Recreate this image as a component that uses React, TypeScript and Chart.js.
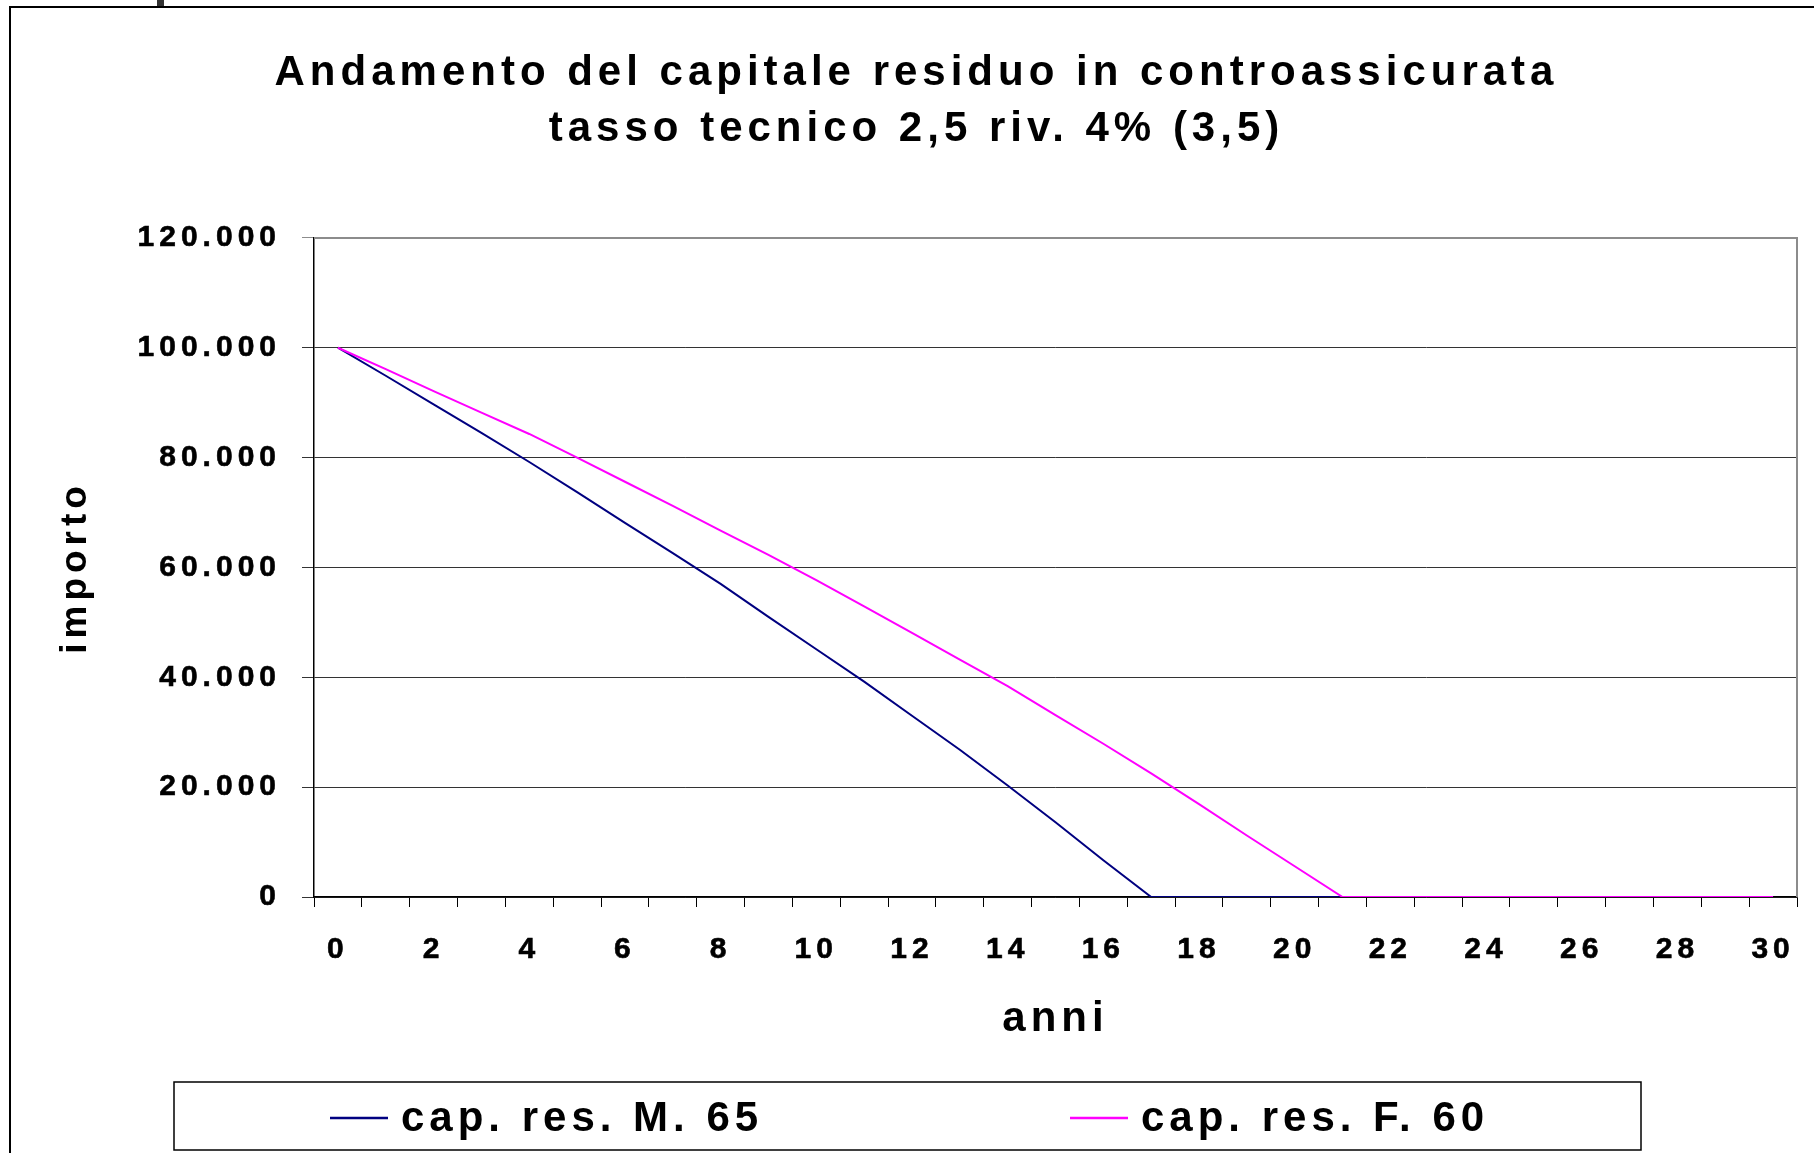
import React, { useEffect, useRef } from 'react';
import { Chart, registerables } from 'chart.js';

Chart.register(...registerables);

// ---- data ----
const years = [
  '0', '1', '2', '3', '4', '5', '6', '7', '8', '9', '10',
  '11', '12', '13', '14', '15', '16', '17', '18', '19', '20',
  '21', '22', '23', '24', '25', '26', '27', '28', '29', '30',
];

const capResM65 = [
  100000, 94900, 89700, 84500, 79200, 73700, 68100, 62600, 57000, 51000, 45100,
  39200, 33000, 26800, 20300, 13600, 6700, 0, 0, 0, 0,
  0, 0, 0, 0, 0, 0, 0, 0, 0, 0,
];

const capResF60 = [
  100000, 96100, 92100, 88200, 84300, 80000, 75600, 71200, 66700, 62300, 57700,
  52900, 48100, 43200, 38400, 33100, 27900, 22500, 16900, 11200, 5600,
  0, 0, 0, 0, 0, 0, 0, 0, 0, 0,
];

const seriesLabels = ['cap. res. M. 65', 'cap. res. F. 60'];
const seriesColors = ['#000080', '#FF00FF'];

const titleLines = [
  'Andamento del capitale residuo in controassicurata',
  'tasso tecnico 2,5 riv. 4% (3,5)',
];
const yAxisTitle = 'importo';
const xAxisTitle = 'anni';
const yMin = 0;
const yMax = 120000;
const yStep = 20000;

const FONT = "'Liberation Sans', Arial, Helvetica, sans-serif";
const formatIt = (v: number) => String(v).replace(/\B(?=(\d{3})+(?!\d))/g, '.');

const spacingPlugin = {
  id: 'letterSpacing',
  beforeUpdate(chart: any) {
    chart.ctx.letterSpacing = '5px';
  },
  beforeLayout(chart: any) {
    chart.ctx.letterSpacing = '5px';
  },
  beforeDraw(chart: any) {
    const ctx = chart.ctx;
    ctx.save();
    ctx.fillStyle = '#ffffff';
    ctx.fillRect(0, 0, chart.width, chart.height);
    ctx.restore();
    ctx.letterSpacing = '5px';
  },
};

const plotFramePlugin = {
  id: 'plotFrame',
  beforeDatasetsDraw(chart: any) {
    const { ctx, chartArea } = chart;
    ctx.save();
    ctx.strokeStyle = '#8c8c8c';
    ctx.lineWidth = 2;
    ctx.beginPath();
    ctx.moveTo(chartArea.left, chartArea.top);
    ctx.lineTo(chartArea.right, chartArea.top);
    ctx.lineTo(chartArea.right, chartArea.bottom);
    ctx.stroke();
    ctx.restore();
  },
};

const legendAndOuterPlugin = {
  id: 'legendAndOuter',
  afterDraw(chart: any) {
    const ctx = chart.ctx;
    ctx.save();
    // outer chart frame (partially visible)
    ctx.strokeStyle = '#000';
    ctx.lineWidth = 2;
    ctx.beginPath();
    ctx.moveTo(10, chart.height);
    ctx.lineTo(10, 7);
    ctx.lineTo(chart.width, 7);
    ctx.stroke();
    ctx.fillStyle = '#333';
    ctx.fillRect(157, 0, 7, 6);

    // legend box
    ctx.lineWidth = 1.5;
    ctx.strokeStyle = '#000';
    ctx.strokeRect(174, 1082, 1467, 68);

    // legend items
    const itemX = [330, 1070];
    const cy = 1118;
    chart.data.datasets.forEach((ds: any, i: number) => {
      const x0 = itemX[i];
      ctx.strokeStyle = ds.borderColor;
      ctx.lineWidth = 2.5;
      ctx.beginPath();
      ctx.moveTo(x0, cy);
      ctx.lineTo(x0 + 58, cy);
      ctx.stroke();
      ctx.fillStyle = '#000';
      ctx.font = `bold 42px ${FONT}`;
      ctx.textAlign = 'left';
      ctx.textBaseline = 'middle';
      ctx.letterSpacing = '5px';
      ctx.fillText(ds.label, x0 + 71, cy + 1);
    });
    ctx.restore();
  },
};

export default function App() {
  const canvasRef = useRef<HTMLCanvasElement | null>(null);

  useEffect(() => {
    const canvas = canvasRef.current;
    if (!canvas) return;
    const chart = new Chart(canvas, {
      type: 'line',
      data: {
        labels: years,
        datasets: [
          {
            label: seriesLabels[0],
            data: capResM65,
            borderColor: seriesColors[0],
            backgroundColor: seriesColors[0],
            borderWidth: 2,
            pointRadius: 0,
            tension: 0,
            order: 1,
          },
          {
            label: seriesLabels[1],
            data: capResF60,
            borderColor: seriesColors[1],
            backgroundColor: seriesColors[1],
            borderWidth: 2,
            pointRadius: 0,
            tension: 0,
            order: 0,
          },
        ],
      },
      options: {
        animation: false,
        responsive: false,
        devicePixelRatio: 1,
        layout: { padding: { left: 36, right: 17, top: 14, bottom: 103 } },
        plugins: {
          legend: { display: false },
          tooltip: { enabled: false },
          title: {
            display: true,
            text: titleLines,
            color: '#000',
            font: { family: FONT, size: 42, weight: 'bold', lineHeight: 1.32 },
            padding: { top: 32, bottom: 81 },
          },
        },
        scales: {
          x: {
            type: 'category',
            offset: true,
            afterFit(scale: any) {
              scale.height = 153;
              scale.paddingLeft = 0;
              scale.paddingRight = 0;
            },
            grid: {
              display: true,
              drawOnChartArea: false,
              drawTicks: true,
              tickLength: 10,
              offset: true,
              color: '#000',
              lineWidth: 1,
            },
            border: { display: true, color: '#000', width: 1.5 },
            ticks: {
              autoSkip: false,
              maxRotation: 0,
              minRotation: 0,
              padding: 25,
              color: '#000',
              textStrokeColor: '#000',
              textStrokeWidth: 0.6,
              font: { family: FONT, size: 30, weight: 'bold' },
              callback: (_v: any, i: number) => (i % 2 === 0 ? years[i] : ''),
            },
            title: {
              display: true,
              text: xAxisTitle,
              color: '#000',
              font: { family: FONT, size: 42, weight: 'bold', lineHeight: 1.2 },
              padding: { top: 0, bottom: 5.8 },
            },
          },
          y: {
            min: yMin,
            max: yMax,
            afterFit(scale: any) {
              scale.width = 278;
            },
            grid: {
              color: (c: any) => (c.tick && c.tick.value === yMax ? '#8c8c8c' : '#333'),
              lineWidth: 1,
              tickLength: 12,
              drawTicks: true,
            },
            border: { display: true, color: '#000', width: 1.5 },
            ticks: {
              stepSize: yStep,
              padding: 21,
              color: '#000',
              textStrokeColor: '#000',
              textStrokeWidth: 0.6,
              font: { family: FONT, size: 30, weight: 'bold' },
              callback: (v: any) => formatIt(Number(v)),
            },
            title: {
              display: true,
              text: yAxisTitle,
              color: '#000',
              font: { family: FONT, size: 37, weight: 'bold', lineHeight: 1.2 },
              padding: { top: 17.8, bottom: 0 },
            },
          },
        },
      },
      plugins: [spacingPlugin, plotFramePlugin, legendAndOuterPlugin],
    } as any);
    return () => chart.destroy();
  }, []);

  return (
    <div style={{ position: 'absolute', left: 0, top: 0, width: 1814, height: 1153, background: '#fff' }}>
      <canvas ref={canvasRef} width={1814} height={1153} style={{ display: 'block' }} />
    </div>
  );
}
